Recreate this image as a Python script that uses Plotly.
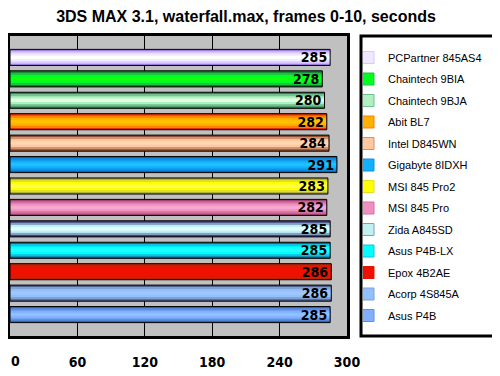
import plotly.graph_objects as go

boards = ["PCPartner 845AS4", "Chaintech 9BIA", "Chaintech 9BJA", "Abit BL7",
          "Intel D845WN", "Gigabyte 8IDXH", "MSI 845 Pro2", "MSI 845 Pro",
          "Zida A845SD", "Asus P4B-LX", "Epox 4B2AE", "Acorp 4S845A", "Asus P4B"]
seconds = [285, 278, 280, 282, 284, 291, 283, 282, 285, 285, 286, 286, 285]
x_ticks = [0, 60, 120, 180, 240, 300]
x_tick_labels = ["0", "60", "120", "180", "240", "300"]

dark = ["#A080E0", "#108030", "#308050", "#E03000", "#905030", "#1060C0", "#A0A040",
        "#A04070", "#404080", "#206080", "#C02000", "#506090", "#3060C0"]
mid = ["#D8C8FF", "#20C040", "#70C090", "#FF8000", "#D09070", "#1090E0", "#E0E020",
       "#D070A0", "#80A0C0", "#10C0E0", "#E01800", "#80A0D0", "#6090E0"]
main = ["#F0E8FF", "#00FF20", "#B0F0C0", "#FFB000", "#FFC8A0", "#10B0FF", "#FFFF00",
        "#F090C0", "#C0F0F0", "#00FFFF", "#F01000", "#90C0FF", "#80B0FF"]
light = ["#FFFFFF", "#10FF10", "#E0FFE0", "#FFC000", "#FFD8B0", "#20C0FF", "#FFFF40",
         "#F8A8D0", "#E0FFFF", "#20FFFF", "#F01000", "#A0C8FF", "#90C0FF"]

NUM_FONT = "DejaVu Sans Condensed, sans-serif"
TICK_FONT = dict(family=NUM_FONT, size=14, color="black", weight="bold")

# page body has an 8px margin: figure is 492x368 placed at (8, 8)
OFF = 8
W, H = 500 - OFF, 376 - OFF
L, R, T, B = 10 - OFF, 347 - OFF, 36 - OFF, 336 - OFF
PW, PH = R - L, B - T

fig = go.Figure()
for i, (b, v) in enumerate(zip(boards, seconds)):
    common = dict(x=[v], y=[b], orientation="h", legendgroup=b, hoverinfo="skip")
    fig.add_trace(go.Bar(**common, width=0.75, marker=dict(color=dark[i], line=dict(width=0)),
                         showlegend=False))
    fig.add_trace(go.Bar(**common, width=0.58, marker=dict(color=mid[i], line=dict(width=0)),
                         showlegend=False))
    fig.add_trace(go.Bar(**common, name=b, width=0.42,
                         marker=dict(color=main[i], line=dict(width=1, color=mid[i])),
                         showlegend=True))
    fig.add_trace(go.Bar(**common, width=0.16, marker=dict(color=light[i], line=dict(width=0)),
                         showlegend=False))
    fig.add_trace(go.Bar(**common, width=0.75, showlegend=False,
                         marker=dict(color="rgba(0,0,0,0)", line=dict(width=1, color="black")),
                         text=[str(v)], textposition="inside", insidetextanchor="end",
                         textangle=0, constraintext="none",
                         textfont=dict(family=NUM_FONT, size=14, color="black", weight="bold")))

# legend frame (screen px 361..494 wide, same height as the plot frame)
fig.add_shape(type="rect", xref="paper", yref="paper",
              x0=(361 - 10) / PW, x1=(494 - 10) / PW, y0=0, y1=1,
              fillcolor="white", line=dict(color="black", width=3), layer="below")

# the first tick label sits at the very left edge of the page; draw it left-anchored
fig.add_annotation(x=x_ticks[0], xref="x", xanchor="left", xshift=-1,
                   y=0, yref="paper", yanchor="middle", yshift=-25,
                   text=x_tick_labels[0], showarrow=False, font=TICK_FONT)

fig.update_layout(
    width=W, height=H,
    barmode="overlay",
    paper_bgcolor="white", plot_bgcolor="#C0C0C0",
    margin=dict(l=L, r=W - R, t=T, b=H - B, autoexpand=False),
    title=dict(text="<b>3DS MAX 3.1, waterfall.max, frames 0-10, seconds</b>",
               font=dict(family="Liberation Sans, Arial, sans-serif", size=16, color="black"),
               x=(246 - OFF) / W, xanchor="center", xref="container",
               y=1 - (16 - OFF) / H, yanchor="middle", yref="container"),
    legend=dict(x=(363 - 10) / PW, xanchor="left", y=1 - 7 / PH, yanchor="top",
                bgcolor="rgba(0,0,0,0)", borderwidth=0,
                font=dict(family="Liberation Sans, Arial, sans-serif", size=11, color="black"),
                tracegroupgap=2.5, traceorder="grouped", itemclick=False, itemwidth=30,
                indentation=-15),
    showlegend=True,
)
fig.update_xaxes(range=[0, 300], tickvals=x_ticks[1:], ticktext=x_tick_labels[1:],
                 showgrid=True, gridcolor="black", gridwidth=1, zeroline=False,
                 showline=True, linecolor="black", linewidth=3, mirror=True,
                 ticks="", ticklabelstandoff=11, ticklabeloverflow="allow",
                 tickfont=TICK_FONT)
fig.update_yaxes(range=[13, -1], showticklabels=False, showgrid=False, zeroline=False,
                 showline=True, linecolor="black", linewidth=3, mirror=True, ticks="")

fig.write_html("out.html")
